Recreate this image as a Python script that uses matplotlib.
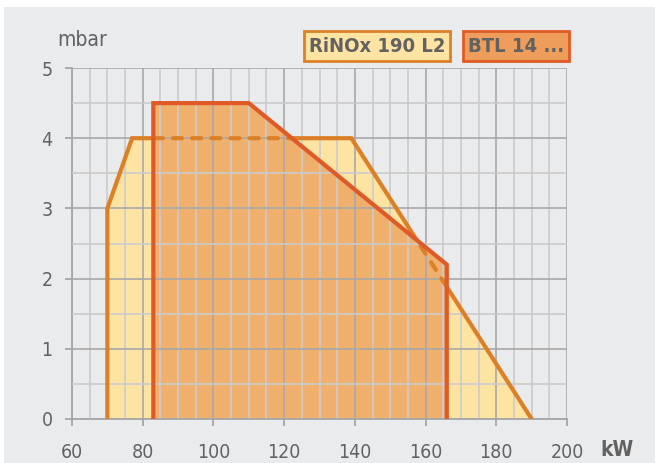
import matplotlib
matplotlib.use("Agg")
import matplotlib.pyplot as plt
from matplotlib.patches import Polygon, Rectangle
from matplotlib.path import Path

# burner working fields (kW, mbar)
rinox_kw = [70, 70, 77, 139, 190]
rinox_mbar = [0, 3, 4, 4, 0]
btl_kw = [83, 83, 110, 166, 166]
btl_mbar = [0, 4.5, 4.5, 2.2, 0]

x_ticks = [60, 80, 100, 120, 140, 160, 180, 200]
y_ticks = [0, 1, 2, 3, 4, 5]
labels = ["RiNOx 190 L2", "BTL 14 ..."]

BG = "#eaebed"
RINOX_LINE = "#dc8028"
RINOX_FILL = "#fee4a3"
BTL_LINE = "#df5a26"
BTL_FILL = "#f0b06d"
TXT = "#626262"

plt.rcParams["font.family"] = ["DejaVu Sans"]
plt.rcParams["font.stretch"] = "condensed"

W, H = 655, 463
fig = plt.figure(figsize=(W / 100, H / 100), dpi=100, facecolor="white")
fig.patches.append(Rectangle((4 / W, 0), 1, 1 - 7 / H, transform=fig.transFigure,
                             facecolor=BG, edgecolor="none", zorder=-5))

ax = fig.add_axes([72 / W, 1 - 419 / H, (567 - 72) / W, (419 - 68) / H])
ax.set_facecolor(BG)
ax.set_xlim(60, 200)
ax.set_ylim(0, 5)

ax.set_xticks(x_ticks)
ax.set_xticks(range(60, 201, 5), minor=True)
ax.set_yticks(y_ticks)
ax.set_yticks([i * 0.5 for i in range(11)], minor=True)
ax.set_axisbelow(False)
ax.grid(which="major", color="#a8a8a8", lw=1.2)
ax.grid(which="minor", color="#cbcbcb", lw=1.2)
ax.tick_params(which="minor", length=0)
ax.tick_params(which="major", length=5, width=1.2, color="#a0a0a0",
               labelsize=14, labelcolor=TXT)
ax.tick_params(axis="x", pad=12)
ax.tick_params(axis="y", pad=9)
for s in ["top", "right"]:
    ax.spines[s].set_visible(False)
for s in ["left", "bottom"]:
    ax.spines[s].set_color("#a0a0a0")
    ax.spines[s].set_linewidth(1.2)

# fills
ax.fill(rinox_kw, rinox_mbar, facecolor=RINOX_FILL, edgecolor="none", zorder=1)
btl_patch = Polygon(list(zip(btl_kw, btl_mbar)), closed=True,
                    facecolor=BTL_FILL, edgecolor="none", zorder=1.1)
ax.add_patch(btl_patch)

# RiNOx outline: solid outside BTL field, dashed inside
outer = Path([(0, -10), (300, -10), (300, 10), (0, 10), (0, -10)], closed=True)
inner = Path(list(zip(btl_kw, btl_mbar)) + [(btl_kw[0], btl_mbar[0])], closed=True)
outside = Path.make_compound_path(outer, inner)

solid, = ax.plot(rinox_kw, rinox_mbar, color=RINOX_LINE, lw=3, zorder=3,
                 solid_capstyle="round", solid_joinstyle="miter")
solid.set_clip_path(outside, ax.transData)
dashed, = ax.plot(rinox_kw, rinox_mbar, color=RINOX_LINE, lw=3, zorder=3,
                  linestyle=(0, (2.2, 2.4)), dash_capstyle="round")
dashed.set_clip_path(btl_patch)

ax.plot(btl_kw, btl_mbar, color=BTL_LINE, lw=3, zorder=3.2,
        solid_joinstyle="miter", solid_capstyle="butt")

# axis captions
fig.text(57 / W, 1 - 40 / H, "mbar", fontsize=15, color=TXT, va="center", ha="left")
fig.text(600 / W, 1 - 450 / H, "kW", fontsize=15, fontweight="bold", color=TXT,
         va="center", ha="left")

# legend boxes
fig.text(377 / W, 1 - 46 / H, labels[0], fontsize=14.5, fontweight="bold", color=TXT,
         ha="center", va="center",
         bbox=dict(boxstyle="square,pad=0.25", facecolor=RINOX_FILL,
                   edgecolor=RINOX_LINE, lw=2))
fig.text(516 / W, 1 - 46 / H, labels[1], fontsize=14.5, fontweight="bold", color=TXT,
         ha="center", va="center",
         bbox=dict(boxstyle="square,pad=0.25", facecolor="#ee9e5a",
                   edgecolor=BTL_LINE, lw=2))

fig.savefig("out.png", dpi=100, facecolor="white")
